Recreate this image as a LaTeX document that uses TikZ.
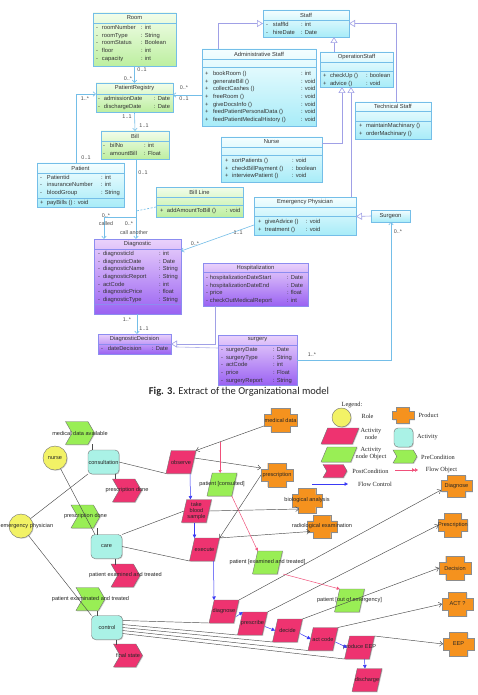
\documentclass[tikz,border=0pt]{standalone}
\usepackage{fontspec}
\setmainfont{Liberation Sans}
\newfontfamily\capfont{Carlito}
\newfontfamily\legfont{Liberation Serif}
\usetikzlibrary{shapes.geometric,shapes.symbols,arrows.meta,calc,shadows}
\definecolor{umlb}{HTML}{74BEE8}
\definecolor{umlp}{HTML}{8C8CF0}
\definecolor{inhc}{HTML}{A0A0E6}
\definecolor{gtop}{HTML}{F2FDEA}
\definecolor{gbot}{HTML}{BDEFA0}
\definecolor{ctop}{HTML}{F4FEFF}
\definecolor{cbot}{HTML}{A8ECF8}
\definecolor{ptop}{HTML}{EAD2FB}
\definecolor{pbot}{HTML}{9A62F2}
\definecolor{pinkc}{HTML}{EE3370}
\definecolor{greenc}{HTML}{99EE55}
\definecolor{cyanc}{HTML}{AAF2E6}
\definecolor{orangec}{HTML}{F5921E}
\definecolor{yellowc}{HTML}{F2F266}
\definecolor{flowr}{HTML}{F0507A}
\definecolor{flowb}{HTML}{3A3AF5}
\newcommand\umlrows[3]{\begin{tabular}{@{}p{#1}@{}p{#2}@{}l@{}}#3\end{tabular}}
\newcommand\prodnode[6]{% name, x, y, w, h, label
  \pgfmathsetmacro\pw{#4/2}\pgfmathsetmacro\ph{#5/2}%
  \pgfmathsetmacro\pa{#4/2-0.21*#4}\pgfmathsetmacro\pb{#5/2-0.25*#5}%
  \filldraw[prodst, shift={(#2,#3)}] (-\pa,-\ph) -- (\pa,-\ph) -- (\pa,-\pb) -- (\pw,-\pb) -- (\pw,\pb) -- (\pa,\pb) -- (\pa,\ph) -- (-\pa,\ph) -- (-\pa,\pb) -- (-\pw,\pb) -- (-\pw,-\pb) -- (-\pa,-\pb) -- cycle;
  \node[minimum width=#4, minimum height=#5, label={[gtxt]center:#6}] (#1) at (#2,#3) {};
}
\begin{document}
\begin{tikzpicture}[x=1pt,y=-1pt,
  every node/.style={inner sep=0pt, outer sep=0pt},
  cls/.style={draw=umlb, line width=0.6pt, anchor=north west},
  gcls/.style={cls, top color=gtop, bottom color=gbot},
  ccls/.style={cls, top color=ctop, bottom color=cbot},
  pcls/.style={cls, draw=umlp, top color=ptop, bottom color=pbot},
  ttl/.style={font=\fontsize{5.8}{6}\selectfont, text=black!80},
  attr/.style={font=\fontsize{5.8}{7.65}\selectfont, text=black!80, anchor=north west, align=left},
  sep/.style={draw=umlb, line width=0.5pt},
  psep/.style={draw=umlp, line width=0.5pt},
  assoc/.style={draw=umlb, line width=0.6pt},
  barb/.style={-{Straight Barb[length=2.5pt,width=4.5pt]}},
  inh/.style={draw=inhc, line width=0.6pt, -{Triangle[open, fill=white, length=6pt, width=7pt]}},
  inhline/.style={draw=inhc!80, line width=0.6pt},
  mult/.style={font=\fontsize{5.4}{6}\selectfont, text=black!70},
  shad/.style={drop shadow={shadow xshift=0.8pt, shadow yshift=-0.8pt, opacity=0.3, fill=black!60}},
  gtxt/.style={font=\fontsize{5.6}{6.4}\selectfont, text=black!85, align=center},
  role/.style={circle, draw=black!55, line width=0.4pt, fill=yellowc, minimum size=24, shad},
  act/.style={rectangle, rounded corners=4pt, draw=black!55, line width=0.4pt, fill=cyanc, minimum width=31, minimum height=24, shad},
  chev/.style={signal, signal from=west, signal to=east, signal pointer angle=120, draw=black!55, line width=0.4pt, inner sep=1pt, minimum width=29, minimum height=23, shad},
  pre/.style={chev, fill=greenc},
  post/.style={chev, fill=pinkc},
  par/.style={trapezium, trapezium left angle=75, trapezium right angle=105, trapezium stretches=true, draw=black!55, line width=0.4pt, inner sep=2pt, minimum width=30, minimum height=23, shad},
  anode/.style={par, fill=pinkc},
  onode/.style={par, fill=greenc},
  prodst/.style={fill=orangec, draw=black!45, line width=0.4pt, shad},
  edge/.style={draw=black!70, line width=0.45pt},
  pedge/.style={edge, -{Straight Barb[length=3pt,width=5pt]}},
  flowc/.style={draw=flowb, line width=0.5pt, -{Triangle[length=3.5pt,width=3.5pt]}},
  flowobj/.style={draw=flowr, line width=0.5pt, -{Triangle[length=3pt,width=3pt]}},
  leg/.style={font=\legfont\fontsize{6.3}{6.8}\selectfont, text=black!85, align=center}
]
\useasboundingbox (0,0) rectangle (478,695);
\fill[white] (0,0) rectangle (478,695);

% ================= UML CLASS DIAGRAM =================
% Room
\node[gcls, minimum width=83, minimum height=53] (room) at (93,13) {};
\node[ttl] (roomt) at (134.5,18) {Room};
\draw[sep] ($(room.north west)+(0,10)$) -- ($(room.north east)+(0,10)$);
\node[attr] (rooma) at (96,24.2) {\umlrows{6pt}{39pt}{- & roomNumber & : int\\ - & roomType & : String\\ - & roomStatus & : Boolean\\ - & floor & : int\\ - & capacity & : int}};
% PatientRegistry
\node[gcls, minimum width=77, minimum height=29] (pr) at (96,83) {};
\node[ttl] (prt) at (134.5,88.5) {PatientRegistry};
\draw[sep] ($(pr.north west)+(0,11)$) -- ($(pr.north east)+(0,11)$);
\node[attr] (pra) at (98,95.2) {\umlrows{6pt}{50pt}{- & admissionDate & : Date\\ - & dischargeDate & : Date}};
% Bill
\node[gcls, minimum width=68, minimum height=28] (bill) at (101,131) {};
\node[ttl] (billt) at (135,136) {Bill};
\draw[sep] ($(bill.north west)+(0,10)$) -- ($(bill.north east)+(0,10)$);
\node[attr] (billa) at (103,142.2) {\umlrows{7pt}{34pt}{- & bilNo & : int\\ - & amountBill & : Float}};
% Patient
\node[ccls, minimum width=87, minimum height=44] (patient) at (37,163) {};
\node[ttl] (patientt) at (80.5,168) {Patient};
\draw[sep] ($(patient.north west)+(0,10)$) -- ($(patient.north east)+(0,10)$);
\node[attr] (patienta) at (40,173.7) {\umlrows{7pt}{54pt}{- & Patientid & : int\\ - & insuranceNumber & : int\\ - & bloodGroup & : String}};
\draw[sep] ($(patient.north west)+(0,35)$) -- ($(patient.north east)+(0,35)$);
\node[attr] (patiento) at (40,199.2) {\umlrows{7pt}{27pt}{+ & payBills () & : void}};
% Bill Line
\node[gcls, minimum width=87, minimum height=30] (billline) at (156,187) {};
\node[ttl] (billlinet) at (199.5,192) {Bill Line};
\draw[sep] ($(billline.north west)+(0,10)$) -- ($(billline.north east)+(0,10)$);
\draw[sep] ($(billline.north west)+(0,18)$) -- ($(billline.north east)+(0,18)$);
\node[attr] (billlineo) at (160,207.2) {\umlrows{7pt}{59pt}{+ & addAmountToBill () & : void}};
% Diagnostic
\node[pcls, minimum width=87, minimum height=75] (diag) at (94,239) {};
\node[ttl] (diagt) at (137.5,244) {Diagnostic};
\draw[psep] ($(diag.north west)+(0,10)$) -- ($(diag.north east)+(0,10)$);
\node[attr] (diaga) at (98,250.2) {\umlrows{5pt}{56pt}{- & diagnosticId & : int\\ - & diagnosticDate & : Date\\ - & diagnosticName & : String\\ - & diagnosticReport & : String\\ - & actCode & : int\\ - & diagnosticPrice & : float\\ - & diagnosticType & : String}};
\draw[psep] ($(diag.north west)+(0,65)$) -- ($(diag.north east)+(0,65)$);
% DiagnosticDecision
\node[pcls, minimum width=73, minimum height=20] (dd) at (98,334) {};
\node[ttl] (ddt) at (134.5,339) {DiagnosticDecision};
\draw[psep] ($(dd.north west)+(0,10)$) -- ($(dd.north east)+(0,10)$);
\node[attr] (dda) at (101,345.2) {\umlrows{7pt}{44pt}{- & dateDecision & : Date}};
% Hospitalization
\node[pcls, minimum width=105, minimum height=43] (hosp) at (203,263) {};
\node[ttl] (hospt) at (255.5,267.5) {Hospitalization};
\draw[psep] ($(hosp.north west)+(0,9)$) -- ($(hosp.north east)+(0,9)$);
\node[attr] (hospa) at (206,274.2) {\umlrows{4pt}{77pt}{- & hospitalizationDateStart & : Date\\ - & hospitalizationDateEnd & : Date\\ - & price & : float\\ - & checkOutMedicalReport & : int}};
% surgery
\node[pcls, minimum width=79, minimum height=50] (surgery) at (218,335) {};
\node[ttl] (surgeryt) at (257.5,340) {surgery};
\draw[psep] ($(surgery.north west)+(0,10)$) -- ($(surgery.north east)+(0,10)$);
\node[attr] (surgerya) at (221,346.2) {\umlrows{5pt}{47pt}{- & surgeryDate & : Date\\ - & surgeryType & : String\\ - & actCode & : int\\ - & price & : Float\\ - & surgeryReport & : String}};
% Staff
\node[ccls, minimum width=86, minimum height=27] (staff) at (263,10) {};
\node[ttl] (stafft) at (306,15) {Staff};
\draw[sep] ($(staff.north west)+(0,10)$) -- ($(staff.north east)+(0,10)$);
\node[attr] (staffa) at (266,21.2) {\umlrows{7pt}{28pt}{- & staffId & : int\\ - & hireDate & : Date}};
% Administrative Staff
\node[ccls, minimum width=114, minimum height=77] (admin) at (202,49) {};
\node[ttl] (admint) at (259,54) {Administrative Staff};
\draw[sep] ($(admin.north west)+(0,10)$) -- ($(admin.north east)+(0,10)$);
\draw[sep] ($(admin.north west)+(0,18)$) -- ($(admin.north east)+(0,18)$);
\node[attr] (admino) at (205,70.2) {\umlrows{8pt}{88pt}{+ & bookRoom () & : int\\ + & generateBill () & : void\\ + & collectCashes () & : void\\ + & freeRoom () & : void\\ + & giveDocsInfo () & : void\\ + & feedPatientPersonalData () & : void\\ + & feedPatientMedicalHistory () & : void}};
% OperationStaff
\node[ccls, minimum width=73, minimum height=35] (opstaff) at (320,52) {};
\node[ttl] (opstafft) at (356.5,57) {OperationStaff};
\draw[sep] ($(opstaff.north west)+(0,10)$) -- ($(opstaff.north east)+(0,10)$);
\draw[sep] ($(opstaff.north west)+(0,19)$) -- ($(opstaff.north east)+(0,19)$);
\node[attr] (opstaffo) at (323,72.2) {\umlrows{7pt}{36pt}{+ & checkUp () & : boolean\\ + & advice () & : void}};
% Technical Staff
\node[ccls, minimum width=76, minimum height=37] (tech) at (355,102) {};
\node[ttl] (techt) at (393,106.5) {Technical Staff};
\draw[sep] ($(tech.north west)+(0,9)$) -- ($(tech.north east)+(0,9)$);
\draw[sep] ($(tech.north west)+(0,19)$) -- ($(tech.north east)+(0,19)$);
\node[attr] (techo) at (359,122.2) {\umlrows{7pt}{60pt}{+ & maintainMachinary () & \\ + & orderMachinary () & }};
% Nurse
\node[ccls, minimum width=101, minimum height=45] (nurseC) at (221,137) {};
\node[ttl] (nurset) at (271.5,142) {Nurse};
\draw[sep] ($(nurseC.north west)+(0,10)$) -- ($(nurseC.north east)+(0,10)$);
\draw[sep] ($(nurseC.north west)+(0,18)$) -- ($(nurseC.north east)+(0,18)$);
\node[attr] (nurseo) at (225,157.2) {\umlrows{7pt}{60pt}{+ & sortPatients () & : void\\ + & checkBillPayment () & : boolean\\ + & interviewPatient () & : void}};
% Emergency Physician
\node[ccls, minimum width=102, minimum height=38] (epC) at (254,197) {};
\node[ttl] (ept) at (305,202) {Emergency Physician};
\draw[sep] ($(epC.north west)+(0,10)$) -- ($(epC.north east)+(0,10)$);
\draw[sep] ($(epC.north west)+(0,19)$) -- ($(epC.north east)+(0,19)$);
\node[attr] (epo) at (258,218.2) {\umlrows{7pt}{41pt}{+ & giveAdvice () & : void\\ + & treatment () & : void}};
% Surgeon
\node[ccls, minimum width=39, minimum height=12] (surgeon) at (371,210) {};
\node[ttl] (surgeont) at (390.5,216) {Surgeon};

% ---- UML connectors ----
\draw[inh] ($(admin.north west)+(16,0)$) |- (staff.west);
\draw[inh] ($(opstaff.north west)+(14,0)$) -- ($(staff.south west)+(71,0)$);
\draw[inh] ($(tech.north west)+(41,0)$) |- (staff.east);
\draw[inh] ($(nurseC.north east)+(0,6)$) -| ($(opstaff.south west)+(22,0)$);
\draw[inh] ($(epC.north east)+(-5,0)$) -- ($(opstaff.south west)+(31,0)$);
\draw[inh] (surgeon.west) -- ($(epC.north east)+(0,19.5)$);
\draw[inh] ($(hosp.south west)+(12,0)$) |- (dd.east);
\draw[inhline] ($(surgery.north west)+(0,13)$) -- ($(dd.east)+(6,3)$);

\draw[assoc, barb] (room.south) -- (pr.north);
\draw[assoc, barb] ($(admin.north west)+(0,46)$) -- ($(pr.north east)+(0,12)$);
\draw[assoc, barb] ($(patient.north west)+(39,0)$) |- ($(pr.north west)+(0,11)$);
\draw[assoc, barb] (pr.south) -- (bill.north);
\draw[assoc, barb] ($(bill.south)+(1,0)$) -- ($(diag.north west)+(42,0)$);
\coordinate (selfa) at ($(bill.south)+(1,58)$);
\draw[assoc, barb] (selfa) -| ($(diag.north west)+(10,0)$);
\coordinate (bla) at ($(bill.south)+(1,52)$);
\draw[assoc, dashed, dash pattern=on 2pt off 1.5pt] ($(billline.south west)+(0,-10)$) -- (bla);
\draw[assoc, barb] ($(epC.south west)+(0,-10)$) -- ($(diag.north east)+(0,12)$);
\draw[assoc, barb] ($(diag.south west)+(43,0)$) -- ($(dd.north west)+(39,0)$);
\draw[assoc, barb] ($(surgery.north east)+(0,25)$) -| ($(surgeon.south west)+(20,0)$);

\node[mult] (m1) at (142,70) {0..1};
\node[mult] (m2) at (128,78.5) {0..*};
\node[mult] (m3) at (184,88) {0..*};
\node[mult] (m4) at (184,99) {0..1};
\node[mult] (m5) at (85,99) {1..*};
\node[mult] (m6) at (86,158) {0..1};
\node[mult] (m7) at (127,117) {1..1};
\node[mult] (m8) at (144,126) {1..1};
\node[mult] (m9) at (143,172.5) {0..1};
\node[mult] (m10) at (106,215.5) {0..*};
\node[mult] (m11) at (106,224) {called};
\node[mult] (m12) at (129,224) {0..*};
\node[mult] (m13) at (134,233) {call another};
\node[mult] (m14) at (238,233) {1..1};
\node[mult] (m15) at (195,244) {0..*};
\node[mult] (m16) at (127,320) {1..*};
\node[mult] (m17) at (144,329) {1..1};
\node[mult] (m18) at (312,355) {1..*};
\node[mult] (m19) at (398,232) {0..*};

% caption
\node[font=\capfont\fontsize{10.5}{12}\selectfont, text=black!85] (caption) at (239,392) {\textbf{Fig. 3.} Extract of the Organizational model};

% ================= LEGEND =================
\node[leg] (legt) at (352,405) {Legend:};
\node[role, minimum size=19] (lrole) at (341.5,417.5) {};
\node[leg] (lrolet) at (367.5,416.5) {Role};
\prodnode{lprod}{403}{415.5}{22}{16}{}
\node[leg] (lprodt) at (428.5,415.5) {Product};
\node[anode, minimum width=38, minimum height=16] (lan) at (340,436) {};
\node[leg] (lant) at (371,434) {Activity\\node};
\node[act, minimum width=19, minimum height=19] (lact) at (403.5,437.5) {};
\node[leg] (lactt) at (427.5,437) {Activity};
\node[onode, minimum width=36, minimum height=15] (lon) at (339,454.5) {};
\node[leg] (lont) at (371,453.5) {Activity\\node Object};
\node[pre, minimum width=24, minimum height=13] (lpre) at (405,456.5) {};
\node[leg] (lpret) at (438,457) {PreCondition};
\node[post, minimum width=24, minimum height=13] (lpost) at (335,471) {};
\node[leg] (lpostt) at (370.5,471.5) {PostCondition};
\coordinate (lfo1) at (395,470);
\coordinate (lfo2) at (418,470);
\draw[draw=flowr, line width=0.5pt, -{Triangle[length=3pt,width=3.5pt]Triangle[length=3pt,width=3.5pt]}] (lfo1) -- (lfo2);
\node[leg] (lfot) at (441.5,470) {Flow Object};
\coordinate (lfc1) at (312,484);
\coordinate (lfc2) at (348,484);
\draw[flowc] (lfc1) -- (lfc2);
\node[leg] (lfct) at (375,484) {Flow Control};

% ================= PROCESS GRAPH =================
\node[role, label={[gtxt]center:nurse}] (nurse) at (55,458) {};
\node[role] (ep) at (21,526) {};
\node[gtxt, anchor=west] (epl) at (0.6,526) {emergency physician};
\node[pre, label={[gtxt]center:medical data available}] (mda) at (80,433) {};
\node[act, label={[gtxt]center:consultation}] (consultation) at (103.5,462) {};
\node[post, label={[gtxt]center:prescription done}] (pdone1) at (127,490.5) {};
\node[pre, label={[gtxt]center:prescription done}] (pdone2) at (85.5,516.5) {};
\node[act, label={[gtxt]center:care}] (care) at (106.5,546.5) {};
\node[post, label={[gtxt]center:patient examined and treated}] (pet1) at (125.5,575.5) {};
\node[pre, label={[gtxt]center:patient examinated and treated}] (pet2) at (90.5,599) {};
\node[act, label={[gtxt]center:control}] (control) at (107,627.5) {};
\node[post, label={[gtxt]center:final state}] (final) at (128,655.5) {};

\node[anode, label={[gtxt]center:observe}] (observe) at (181,462) {};
\node[anode, label={[gtxt]center:take\\blood\\sample}] (tbs) at (196.5,511) {};
\node[anode, label={[gtxt]center:execute}] (execute) at (204.5,549.5) {};
\node[anode, label={[gtxt]center:diagnose}] (diagnose) at (224,611.5) {};
\node[anode, label={[gtxt]center:prescribe}] (prescribe) at (252.5,623.5) {};
\node[anode, label={[gtxt]center:decide}] (decide) at (287.5,630.5) {};
\node[anode, label={[gtxt]center:act code}] (actcode) at (323,639) {};
\node[anode, label={[gtxt]center:produce EEP}] (produceEEP) at (359.5,647.5) {};
\node[anode, label={[gtxt]center:discharge}] (discharge) at (367,680) {};

\node[onode, label={[gtxt]center:patient [consulted]}] (pcons) at (222,484.5) {};
\node[onode, label={[gtxt]center:patient [examined and treated]}] (pexam) at (267.5,562.5) {};
\node[onode, label={[gtxt]center:patient [out of emergency]}] (pout) at (349.5,600.5) {};

\prodnode{meddata}{280.5}{420}{33}{24}{medical data}
\prodnode{prescription}{277}{475}{32}{24}{prescription}
\prodnode{bio}{307}{500.5}{30}{25}{biological analysis}
\prodnode{radio}{322}{526.5}{30}{23}{radiological examination}
\prodnode{diagP}{456.5}{486}{31}{22}{Diagnose}
\prodnode{presP}{453}{525}{29}{24}{Prescription}
\prodnode{decP}{455}{568}{32}{24}{Decision}
\prodnode{actP}{457.5}{604}{31}{24}{ACT ?}
\prodnode{eepP}{458.5}{644}{31}{24}{EEP}

% plain links
\draw[edge] (nurse) -- ($(care.north west)+(4,0)$);
\draw[edge] (ep) -- (consultation.south west);
\draw[edge] (ep) -- (control.north west);
\draw[edge] ($(consultation.north west)+(4,0)$) -- ($(consultation.north west)+(4,-6)$);
\draw[edge] ($(consultation.south west)+(27,0)$) -- ($(consultation.south west)+(27,5)$);
\draw[edge] (consultation.east) -- (observe.bottom left corner);
\draw[edge] ($(care.north west)+(6,0)$) -- ($(care.north west)+(6,-7)$);
\draw[edge] (care.north east) -- (tbs.west);
\draw[edge] (care.east) -- (execute.bottom left corner);
\draw[edge] ($(care.south west)+(24,0)$) -- ($(care.south west)+(24,6)$);
\draw[edge] ($(control.north west)+(6,0)$) -- ($(control.north west)+(6,-5)$);
\draw[edge] ($(control.south west)+(25,0)$) -- ($(control.south west)+(25,5)$);
\draw[edge] ($(control.north east)+(0,5)$) -- (diagnose.bottom left corner);
\draw[edge] ($(control.north east)+(0,9)$) -- (prescribe.bottom left corner);
\draw[edge] ($(control.north east)+(0,12)$) -- (decide.bottom left corner);
\draw[edge] ($(control.north east)+(0,15)$) -- (actcode.bottom left corner);
\draw[edge] ($(control.north east)+(0,18)$) -- (produceEEP.bottom left corner);

% product arrows
\draw[pedge] (meddata) -- (observe.top right corner);
\draw[pedge] ($(observe.east)+(1,-4)$) -- ($(prescription.north west)+(0,5)$);
\draw[pedge] (tbs.east) -- ($(bio.south west)+(7,-4)$);
\draw[pedge] (execute.top right corner) -- ($(radio.west)+(3,5)$);
\draw[pedge] (prescription.west) -- (execute.top right corner);
\draw[pedge] (diagnose.top right corner) -- ($(diagP.west)+(0,4)$);
\draw[pedge] (prescribe.top right corner) -- (presP.west);
\draw[pedge] (decide.top right corner) -- (decP.west);
\draw[pedge] (actcode.top right corner) -- (actP.west);
\draw[pedge] (produceEEP.top right corner) -- (eepP.west);

% flow objects
\coordinate (fo1) at ($(meddata)!0.714!(observe.top right corner)$);
\draw[flowobj] (fo1) -- (fo1 |- pcons.north);
\draw[flowobj] (pcons.bottom right corner) -- (pexam.top left corner);
\draw[flowobj] ($(pexam.bottom right corner)+(6,0)$) -- (pout.top left corner);

% flow control
\draw[flowc] ([xshift=9pt]observe.south) -- ([xshift=-6pt]tbs.north);
\draw[flowc] ([xshift=-2pt]tbs.south) -- ([xshift=-10pt]execute.north);
\draw[flowc] ([xshift=9pt]execute.south) -- ([xshift=-10pt]diagnose.north);
\draw[flowc] ([yshift=-5pt]diagnose.east) -- (prescribe.top left corner);
\draw[flowc] ([yshift=-3pt]prescribe.east) -- (decide.west);
\draw[flowc] ([yshift=-3pt]decide.east) -- (actcode.west);
\draw[flowc] ([yshift=-3pt]actcode.east) -- (produceEEP.west);
\draw[flowc] ([xshift=5pt]produceEEP.south) -- ([xshift=-2pt]discharge.north);
\end{tikzpicture}
\end{document}
